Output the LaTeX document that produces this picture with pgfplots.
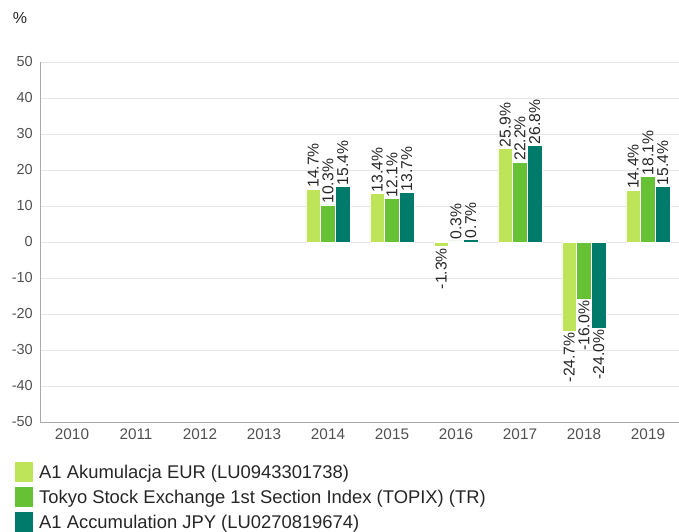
\documentclass[border=0pt]{standalone}
\usepackage{pgfplots}
\pgfplotsset{compat=1.18}
\usepackage{fontspec}
\setmainfont{Liberation Sans}
\definecolor{cA}{RGB}{190,228,90}
\definecolor{cB}{RGB}{102,194,52}
\definecolor{cC}{RGB}{0,122,106}
\definecolor{axisgray}{RGB}{170,170,170}
\definecolor{gridgray}{RGB}{230,230,230}
\definecolor{ticktext}{RGB}{80,80,80}
\begin{document}
\begin{tikzpicture}[x=1pt,y=1pt]
\useasboundingbox (0,0) rectangle (679,531);
\node[font=\fontsize{16}{18}\selectfont, text=black!85, inner sep=0pt] at (20,513) {\%};
\begin{axis}[
  at={(40pt,109pt)}, anchor=south west,
  scale only axis, width=640pt, height=360pt,
  xmin=-0.5, xmax=9.5, ymin=-50, ymax=50,
  ytick={-50,-40,...,50},
  xtick={0,...,9},
  xticklabels={2010,2011,2012,2013,2014,2015,2016,2017,2018,2019},
  /pgf/number format/assume math mode=true,
  axis x line=bottom, axis y line=left,
  axis line style={axisgray, line width=0.8pt, -},
  ymajorgrids, major grid style={gridgray, line width=0.8pt},
  major tick length=0pt,
  tick label style={text=ticktext, font=\fontsize{15}{16}\selectfont},
  yticklabel style={inner sep=0pt, xshift=-7pt, font=\fontsize{14.5}{16}\selectfont},
  xticklabel style={inner sep=0pt, yshift=-7pt, font=\fontsize{15.3}{16}\selectfont},
  ybar, bar width=0.23,
  every axis plot/.append style={draw=white, line width=0.8pt},
  nodes near coords={\pgfmathprintnumber[fixed,fixed zerofill,precision=1]{\pgfplotspointmeta}\%},
  visualization depends on={rawy \as \rawy},
  every node near coord/.append style={rotate=90, font=\fontsize{15.7}{16}\selectfont, text=black!85, inner sep=1pt,
     anchor=\ifdim\rawy pt<0pt east\else west\fi},
  legend style={at={(0,0)}, anchor=north west, xshift=-25pt, yshift=-40pt, draw=none, fill=none,
     font=\fontsize{18.4}{20}\selectfont, text=black!85, row sep=5pt, inner sep=0pt, nodes={inner sep=1pt},
     /tikz/every odd column/.append style={column sep=5pt}},
  legend cell align=left,
  legend image code/.code={\fill[#1, draw=none] (0pt,-10pt) rectangle (18pt,10pt);},
  clip=false,
]
\addplot[fill=cA, bar shift=-0.23] coordinates {(4,14.7) (5,13.4) (6,-1.3) (7,25.9) (8,-24.7) (9,14.4)};
\addplot[fill=cB, bar shift=0] coordinates {(4,10.3) (5,12.1) (6,0.3) (7,22.2) (8,-16.0) (9,18.1)};
\addplot[fill=cC, bar shift=0.23] coordinates {(4,15.4) (5,13.7) (6,0.7) (7,26.8) (8,-24.0) (9,15.4)};
\legend{A1 Akumulacja EUR (LU0943301738), Tokyo Stock Exchange 1st Section Index (TOPIX) (TR), A1 Accumulation JPY (LU0270819674)}
\end{axis}
\end{tikzpicture}
\end{document}
